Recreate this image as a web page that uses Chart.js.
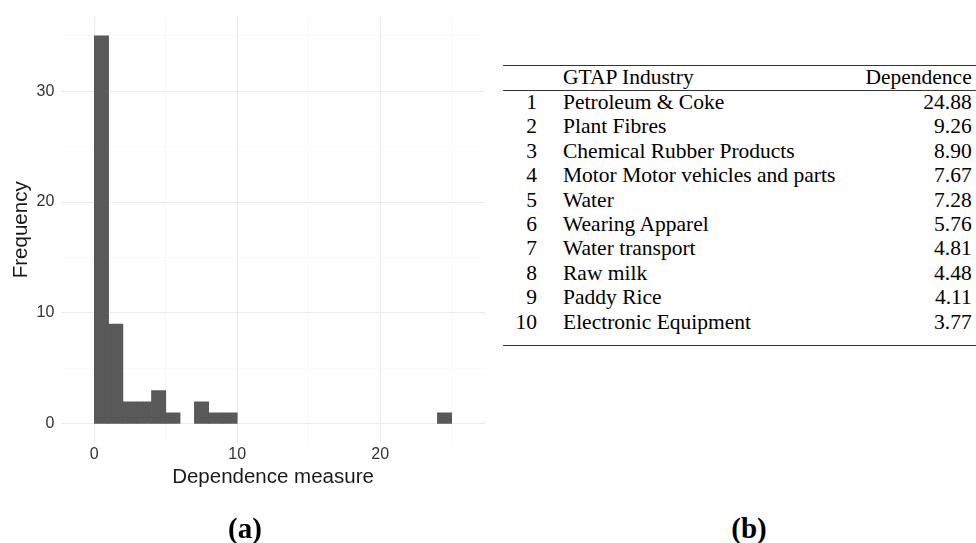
<!DOCTYPE html>
<html>
<head>
<meta charset="utf-8">
<script src="https://cdn.jsdelivr.net/npm/chart.js@4/dist/chart.umd.min.js"></script>
<style>
  html, body { margin: 0; padding: 0; background: #ffffff; }
  body { width: 976px; height: 543px; position: relative; overflow: hidden; }
  #chartBox { position: absolute; left: 0; top: 0; width: 500px; height: 543px; }
  .panel { position: absolute; font-family: "Liberation Serif", serif; font-weight: bold; font-size: 29px; color: #000; transform: translate(-50%, -50%); white-space: nowrap; }
  #tbl { position: absolute; left: 503px; top: 0; width: 473px; height: 400px; font-family: "Liberation Serif", serif; font-size: 21.5px; color: #000; }
  .rule { position: absolute; left: 0; width: 473px; background: #333; }
  .cell { position: absolute; height: 24.4px; line-height: 24.4px; white-space: nowrap; }
</style>
</head>
<body>
<div id="chartBox"><canvas id="c" width="500" height="543"></canvas></div>
<div class="panel" style="left:245px; top:528px;">(a)</div>
<div class="panel" style="left:749px; top:528px;">(b)</div>
<div id="tbl"></div>
<script>
// Histogram (bin width 1, bins start at 0)
const binStarts = [0,1,2,3,4,5,6,7,8,9,10,11,12,13,14,15,16,17,18,19,20,21,22,23,24];
const binCounts = [35,9,2,2,3,1,0,2,1,1,0,0,0,0,0,0,0,0,0,0,0,0,0,0,1];
const xTickLabels = [0, 10, 20];
const yTickLabels = [0, 10, 20, 30];

// Table (b)
const tableHeader = ["", "GTAP Industry", "Dependence"];
const rankNumbers = [1,2,3,4,5,6,7,8,9,10];
const industries = ["Petroleum & Coke","Plant Fibres","Chemical Rubber Products","Motor Motor vehicles and parts","Water","Wearing Apparel","Water transport","Raw milk","Paddy Rice","Electronic Equipment"];
const dependence = ["24.88","9.26","8.90","7.67","7.28","5.76","4.81","4.48","4.11","3.77"];

const points = binStarts.map((s, i) => ({ x: s + 0.5, y: binCounts[i] === 0 ? null : binCounts[i] }));

Chart.defaults.font.family = "'Liberation Sans', Arial, sans-serif";
const majorGrid = '#ebebeb', minorGrid = '#f5f5f5';

new Chart(document.getElementById('c'), {
  type: 'bar',
  data: { datasets: [{ data: points, backgroundColor: '#595959', borderWidth: 0, barPercentage: 1, categoryPercentage: 1 }] },
  options: {
    responsive: false,
    animation: false,
    layout: { padding: { left: 0, right: 15, top: 12.7, bottom: 49.7 } },
    plugins: { legend: { display: false }, tooltip: { enabled: false } },
    scales: {
      x: {
        type: 'linear', min: -2.33, max: 27.33, offset: false,
        afterFit: s => { s.height = 50; },
        border: { display: false },
        grid: { offset: false, drawTicks: false, color: c => (c.tick && c.tick.value % 10 === 0) ? majorGrid : minorGrid, lineWidth: c => (c.tick && c.tick.value % 10 === 0) ? 1.1 : 0.6 },
        ticks: { includeBounds: false, stepSize: 5, maxRotation: 0, autoSkip: false, padding: 2, color: '#333', font: { size: 16 },
          callback: v => xTickLabels.includes(v) ? String(v) : '' },
        title: { display: true, text: 'Dependence measure', color: '#1a1a1a', font: { size: 20.5 }, padding: { top: 0, bottom: 4 } }
      },
      y: {
        type: 'linear', min: -1.75, max: 36.75,
        afterFit: s => { s.width = 61; },
        border: { display: false },
        grid: { drawTicks: false, color: c => (c.tick && c.tick.value % 10 === 0) ? majorGrid : minorGrid, lineWidth: c => (c.tick && c.tick.value % 10 === 0) ? 1.1 : 0.6 },
        ticks: { includeBounds: false, stepSize: 5, autoSkip: false, padding: 6.7, color: '#333', font: { size: 16 },
          callback: v => yTickLabels.includes(v) ? String(v) : '' },
        title: { display: true, text: 'Frequency', color: '#1a1a1a', font: { size: 20.5 }, padding: { top: 9.4, bottom: 0 } }
      }
    }
  }
});

// Build table (b)
const tbl = document.getElementById('tbl');
function rule(y, h) { const d = document.createElement('div'); d.className = 'rule'; d.style.top = (y - h / 2) + 'px'; d.style.height = h + 'px'; tbl.appendChild(d); }
function cell(text, centerY, opts) {
  const d = document.createElement('div'); d.className = 'cell'; d.textContent = text;
  d.style.top = (centerY - 12.2) + 'px';
  if (opts.left !== undefined) d.style.left = opts.left + 'px';
  if (opts.right !== undefined) { d.style.right = opts.right + 'px'; d.style.textAlign = 'right'; }
  tbl.appendChild(d);
}
rule(65.7, 1.4);
rule(90.7, 1.0);
rule(345.3, 1.4);
const headerY = 76.7;
cell(tableHeader[1], headerY, { left: 60 });
cell(tableHeader[2], headerY, { right: 4.3 });
const rowStep = 24.38, firstRowY = 102.3;
rankNumbers.forEach((n, i) => {
  const cy = firstRowY + i * rowStep;
  cell(String(n), cy, { right: 473 - 34 });
  cell(industries[i], cy, { left: 60 });
  cell(dependence[i], cy, { right: 4.3 });
});
</script>
</body>
</html>
